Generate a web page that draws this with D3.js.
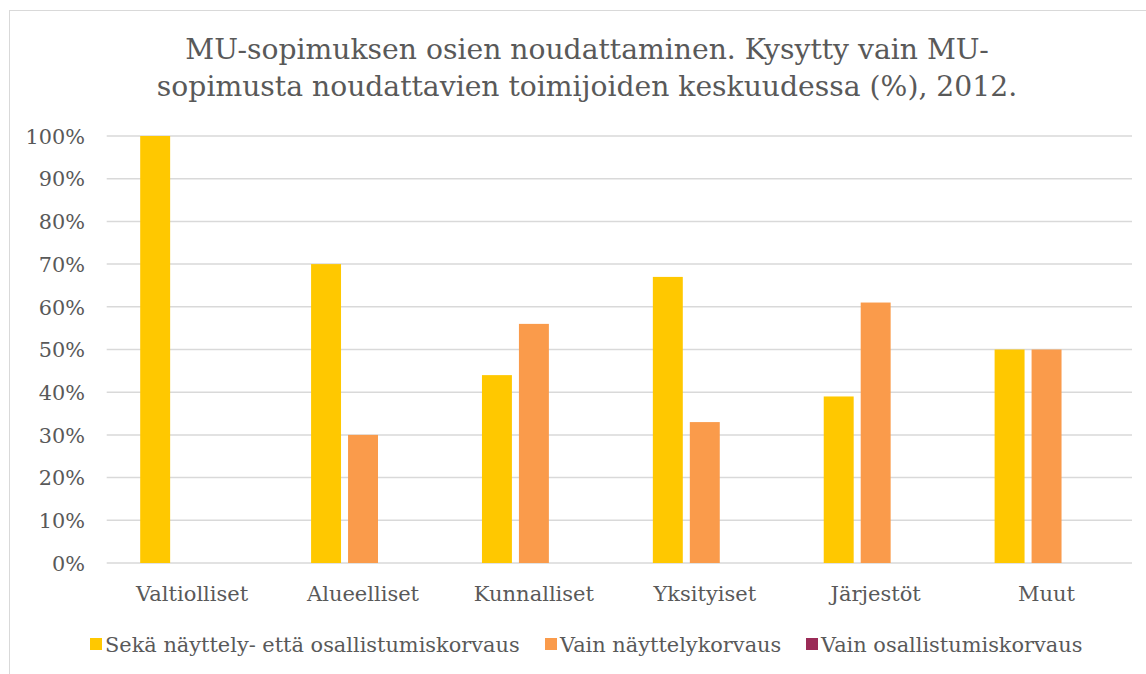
<!DOCTYPE html>
<html>
<head>
<meta charset="utf-8">
<script src="https://cdn.jsdelivr.net/npm/d3@7"></script>
<style>
  html, body { margin: 0; padding: 0; background: #fff; }
  svg { display: block; }
  text { font-family: "DejaVu Serif", "Liberation Serif", serif; fill: #595959; }
</style>
</head>
<body>
<svg id="chart" width="1146" height="674"></svg>
<script>
const titleLines = ["MU-sopimuksen osien noudattaminen. Kysytty vain MU-",
                    "sopimusta noudattavien toimijoiden keskuudessa (%), 2012."];
const categories = ["Valtiolliset", "Alueelliset", "Kunnalliset", "Yksityiset", "Järjestöt", "Muut"];
const seriesNames = ["Sekä näyttely- että osallistumiskorvaus", "Vain näyttelykorvaus", "Vain osallistumiskorvaus"];
const seriesA = [100, 70, 44, 67, 39, 50];
const seriesB = [0, 30, 56, 33, 61, 50];
const seriesC = [0, 0, 0, 0, 0, 0];
const yTicks = [0, 10, 20, 30, 40, 50, 60, 70, 80, 90, 100];
const colors = ["#FFC800", "#FA9B4B", "#9B2B57"];

const svg = d3.select("#chart");
const allSeries = [seriesA, seriesB, seriesC];

// chart frame
svg.append("rect").attr("x", 9.5).attr("y", 10.5).attr("width", 1160).attr("height", 700)
  .attr("fill", "#fff").attr("stroke", "#d9d9d9").attr("stroke-width", 1);

const plot = { left: 106.7, right: 1132, top: 136, bottom: 563 };

const x0 = d3.scaleBand().domain(categories).range([plot.left, plot.right])
  .paddingInner(0.392).paddingOuter(0.196);
const x1 = d3.scaleBand().domain(d3.range(allSeries.length)).range([0, x0.bandwidth()])
  .paddingInner(0.19).paddingOuter(0);
const y = d3.scaleLinear().domain([0, 100]).range([plot.bottom, plot.top]);

// gridlines
svg.append("g").selectAll("line").data(yTicks).join("line")
  .attr("x1", plot.left).attr("x2", plot.right)
  .attr("y1", d => y(d)).attr("y2", d => y(d))
  .attr("stroke", "#d9d9d9").attr("stroke-width", 1.5);

// y axis labels
const yAxis = d3.axisLeft(y).tickValues(yTicks).tickFormat(d => d + "%").tickSize(0).tickPadding(0);
const yg = svg.append("g").attr("transform", `translate(85,0)`).call(yAxis);
yg.select(".domain").remove();
yg.selectAll("text").attr("font-size", 20.8).attr("fill", "#595959")
  .attr("font-family", "DejaVu Serif, serif").attr("dy", "0.35em");

// bars
const groups = svg.append("g").selectAll("g").data(categories).join("g")
  .attr("transform", d => `translate(${x0(d)},0)`);
groups.selectAll("rect").data((c, i) => allSeries.map((s, k) => ({ k, v: s[i] })))
  .join("rect")
  .attr("x", d => x1(d.k)).attr("width", x1.bandwidth())
  .attr("y", d => y(d.v)).attr("height", d => y(0) - y(d.v))
  .attr("fill", d => colors[d.k]);

// x axis labels
const xAxis = d3.axisBottom(x0).tickSize(0).tickPadding(0);
const xg = svg.append("g").attr("transform", `translate(0,${plot.bottom})`).call(xAxis);
xg.select(".domain").remove();
xg.selectAll("text").attr("font-size", 21).attr("fill", "#595959")
  .attr("font-family", "DejaVu Serif, serif").attr("dy", null).attr("y", 38);

// title
const title = svg.append("g");
title.selectAll("text").data(titleLines).join("text")
  .attr("x", 587).attr("y", (d, i) => 59 + i * 37)
  .attr("text-anchor", "middle").attr("font-size", 29).text(d => d);
// fit to original width (compromise between the two lines)
const n0 = title.selectAll("text").nodes();
const fs = 29 * (814 + 850) / (n0[0].getComputedTextLength() + n0[1].getComputedTextLength());
title.selectAll("text").attr("font-size", fs);

// legend
const legendX = [90, 545, 806];
const legend = svg.append("g").selectAll("g").data(seriesNames).join("g")
  .attr("transform", (d, i) => `translate(${legendX[i]},0)`);
legend.append("rect").attr("x", 0).attr("y", 638).attr("width", 12).attr("height", 12)
  .attr("fill", (d, i) => colors[i]);
legend.append("text").attr("x", 15).attr("y", 652).attr("font-size", 19).text(d => d);
// fit legend text
const lt = legend.select("text").node();
const lw = lt.getComputedTextLength();
legend.selectAll("text").attr("font-size", 19 * 415 / lw);
</script>
</body>
</html>
